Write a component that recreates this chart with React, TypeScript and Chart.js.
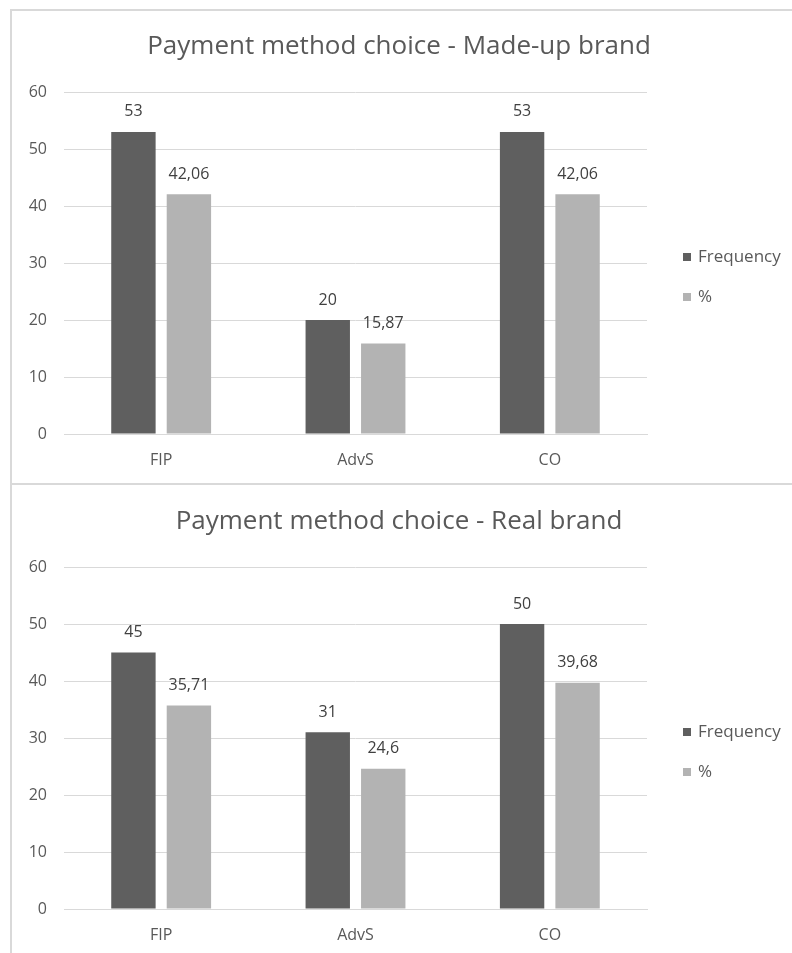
import React, { useEffect, useRef } from "react";
import { Chart, registerables } from "chart.js";

Chart.register(...registerables);

const categories = ["FIP", "AdvS", "CO"];
const madeUpFrequency = [53, 20, 53];
const madeUpPercent = [42.06, 15.87, 42.06];
const realFrequency = [45, 31, 50];
const realPercent = [35.71, 24.6, 39.68];
const yTicks = [0, 10, 20, 30, 40, 50, 60];
const seriesNames = ["Frequency", "%"];

const DARK = "#5f5f5f";
const LIGHT = "#b3b3b3";
const TEXT = "#595959";
const FONT = "'Open Sans', 'Noto Sans', sans-serif";
const SMALL = 16;

const fmt = (v: number) => String(v).replace(".", ",");

// Value labels above bars, centred title and a right-hand legend
const decorations = {
  id: "decorations",
  afterDatasetsDraw(chart: any) {
    const { ctx, chartArea } = chart;
    const opts = chart.options.plugins.decorations;
    ctx.save();
    ctx.font = `${SMALL}px ${FONT}`;
    ctx.fillStyle = "#404040";
    ctx.textAlign = "center";
    ctx.textBaseline = "middle";
    chart.data.datasets.forEach((ds: any, i: number) => {
      const meta = chart.getDatasetMeta(i);
      meta.data.forEach((bar: any, j: number) => {
        ctx.fillText(fmt(ds.data[j]), bar.x, bar.y - 20);
      });
    });

    ctx.font = `26px ${FONT}`;
    ctx.fillStyle = TEXT;
    ctx.fillText(opts.title, opts.titleX, opts.titleY);

    const mid = (chartArea.top + chartArea.bottom) / 2;
    ctx.font = `17px ${FONT}`;
    ctx.textAlign = "left";
    chart.data.datasets.forEach((ds: any, i: number) => {
      const y = mid - 6 + i * 40;
      ctx.fillStyle = ds.backgroundColor;
      ctx.fillRect(672, y - 4, 8, 8);
      ctx.fillStyle = TEXT;
      ctx.fillText(ds.label, 687, y);
    });
    ctx.restore();
  },
};

function BarPanel(props: {
  title: string;
  freq: number[];
  pct: number[];
  width: number;
  height: number;
  top: number;
  bottom: number;
  titleY: number;
}) {
  const ref = useRef<HTMLCanvasElement | null>(null);
  useEffect(() => {
    if (!ref.current) return;
    const chart = new Chart(ref.current, {
      type: "bar",
      data: {
        labels: categories,
        datasets: [
          {
            label: seriesNames[0],
            data: props.freq,
            backgroundColor: DARK,
            categoryPercentage: 0.571,
            barPercentage: 0.8,
          },
          {
            label: seriesNames[1],
            data: props.pct,
            backgroundColor: LIGHT,
            categoryPercentage: 0.571,
            barPercentage: 0.8,
          },
        ],
      },
      options: {
        responsive: false,
        animation: false,
        layout: { padding: { top: props.top, right: 145, left: 0, bottom: 0 } },
        plugins: {
          legend: { display: false },
          tooltip: { enabled: false },
          decorations: { title: props.title, titleX: 388, titleY: props.titleY },
        } as any,
        scales: {
          x: {
            grid: { display: false, drawTicks: false },
            border: { display: true, color: "#d9d9d9", width: 1 },
            ticks: { color: TEXT, font: { size: SMALL, family: FONT }, padding: 17 },
            afterFit: (s: any) => {
              s.height = props.height - props.bottom;
            },
          },
          y: {
            min: 0,
            max: 60,
            afterBuildTicks: (s: any) => {
              s.ticks = yTicks.map((v) => ({ value: v }));
            },
            grid: { color: "#d9d9d9", drawTicks: false },
            border: { display: false },
            ticks: { color: TEXT, font: { size: SMALL, family: FONT }, padding: 17 },
            afterFit: (s: any) => {
              s.width = 53;
            },
          },
        },
      },
      plugins: [decorations],
    });
    return () => chart.destroy();
  }, []);
  return <canvas ref={ref} width={props.width} height={props.height} style={{ display: "block" }} />;
}

export default function App() {
  return (
    <div style={{ position: "absolute", left: 0, top: 0, width: 792, height: 953, overflow: "hidden", background: "#fff" }}>
      <div
        style={{
          position: "absolute",
          left: 10,
          top: 9,
          width: 800,
          height: 474,
          borderLeft: "2px solid #d9d9d9",
          borderTop: "2px solid #d9d9d9",
          boxSizing: "border-box",
        }}
      />
      <div
        style={{
          position: "absolute",
          left: 10,
          top: 483,
          width: 800,
          height: 500,
          borderLeft: "2px solid #d9d9d9",
          borderTop: "2px solid #d9d9d9",
          boxSizing: "border-box",
        }}
      />
      <div style={{ position: "absolute", left: 11, top: 10 }}>
        <BarPanel
          title="Payment method choice - Made-up brand"
          freq={madeUpFrequency}
          pct={madeUpPercent}
          width={781}
          height={473}
          top={82}
          bottom={424}
          titleY={37}
        />
      </div>
      <div style={{ position: "absolute", left: 11, top: 483 }}>
        <BarPanel
          title="Payment method choice - Real brand"
          freq={realFrequency}
          pct={realPercent}
          width={781}
          height={470}
          top={84}
          bottom={426}
          titleY={39}
        />
      </div>
    </div>
  );
}
